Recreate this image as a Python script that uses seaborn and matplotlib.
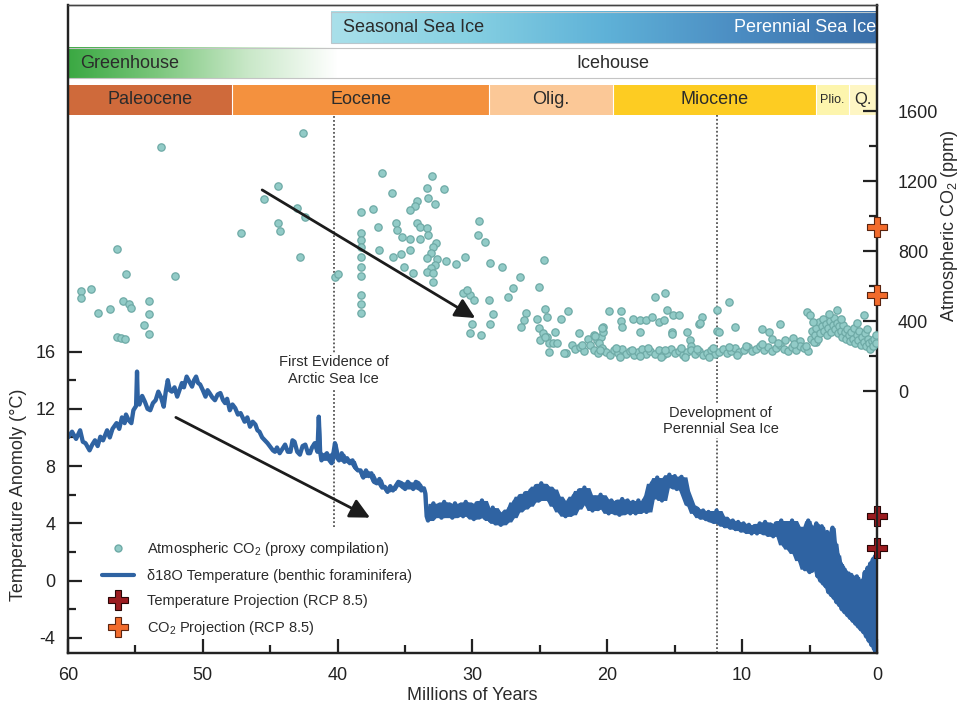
import numpy as np
import pandas as pd
import matplotlib
matplotlib.use("Agg")
import matplotlib.pyplot as plt
from matplotlib.lines import Line2D
from matplotlib.colors import LinearSegmentedColormap
from matplotlib.ticker import FixedLocator
import seaborn as sns

# ---- data ----
# benthic d18O temperature (age in Myr, temperature anomaly in degC)
temp_age = [
    60.0, 59.7, 59.4, 59.1, 58.9, 58.7, 58.4, 58.2, 58.0, 57.8,
    57.6, 57.4, 57.1, 56.9, 56.7, 56.4, 56.2, 56.0, 55.8, 55.7,
    55.5, 55.3, 55.15, 54.95, 54.88, 54.82, 54.7, 54.5, 54.3, 54.1,
    53.9, 53.7, 53.5, 53.3, 53.1, 52.9, 52.75, 52.6, 52.45, 52.3,
    52.1, 51.9, 51.7, 51.55, 51.4, 51.2, 51.0, 50.8, 50.65, 50.5,
    50.35, 50.2, 50.0, 49.8, 49.65, 49.5, 49.3, 49.1, 48.9, 48.7,
    48.5, 48.35, 48.2, 48.0, 47.8, 47.6, 47.4, 47.2, 47.0, 46.9,
    46.7, 46.5, 46.3, 46.1, 45.95, 45.8, 45.6, 45.4, 45.2, 45.0,
    44.8, 44.65, 44.5, 44.3, 44.1, 43.9, 43.7, 43.5, 43.35, 43.2,
    43.0, 42.8, 42.6, 42.4, 42.2, 42.05, 41.9, 41.7, 41.5, 41.4,
    41.3, 41.2, 41.0, 40.8, 40.6, 40.45, 40.3, 40.2, 40.05, 39.9,
    39.7, 39.5, 39.3, 39.1, 38.9, 38.7, 38.5, 38.3, 38.1, 37.9,
    37.7, 37.5, 37.3, 37.1, 36.9, 36.7, 36.5, 36.3, 36.1, 35.9,
    35.7, 35.5, 35.25, 35.0, 34.8, 34.6, 34.4, 34.2, 34.0, 33.8,
    33.6, 33.5, 33.4, 33.3, 33.1, 32.9, 32.7, 32.5, 32.3, 32.1,
    31.9, 31.7, 31.5, 31.3, 31.1, 30.9, 30.7, 30.5, 30.3, 30.1,
    29.9, 29.7, 29.5, 29.3, 29.1, 28.9, 28.7, 28.5, 28.3, 28.1,
    27.9, 27.7, 27.5, 27.3, 27.1, 26.9, 26.7, 26.5, 26.3, 26.1,
    25.9, 25.7, 25.5, 25.3, 25.1, 24.9, 24.7, 24.5, 24.3, 24.1,
    23.9, 23.7, 23.5, 23.3, 23.1, 22.9, 22.7, 22.5, 22.3, 22.1,
    21.9, 21.7, 21.5, 21.3, 21.1, 20.9, 20.7, 20.5, 20.3, 20.1,
    19.9, 19.7, 19.5, 19.3, 19.1, 18.9, 18.7, 18.5, 18.3, 18.1,
    17.9, 17.7, 17.5, 17.3, 17.1, 16.9, 16.7, 16.5, 16.3, 16.1,
    15.95, 15.8, 15.6, 15.4, 15.2, 15.0, 14.85, 14.7, 14.5, 14.3,
    14.1, 13.9, 13.7, 13.5, 13.3, 13.1, 12.9, 12.7, 12.5, 12.3,
    12.1, 11.9, 11.7, 11.5, 11.3, 11.1, 10.9, 10.7, 10.5, 10.3,
    10.1, 9.9, 9.7, 9.5, 9.3, 9.1, 8.9, 8.7, 8.5, 8.3,
    8.1, 7.9, 7.7, 7.5, 7.3, 7.1, 6.9, 6.7, 6.5, 6.3,
    6.1, 5.9, 5.7, 5.5, 5.35, 5.2, 5.1, 5.0, 4.9, 4.8,
    4.7, 4.6, 4.5, 4.4, 4.3, 4.2, 4.1, 4.0, 3.9, 3.8,
    3.7, 3.6, 3.5, 3.4, 3.3, 3.2, 3.1, 3.0, 2.9, 2.8,
    2.7, 2.6, 2.5, 2.4, 2.3, 2.2, 2.1, 2.0, 1.9, 1.8,
    1.7, 1.6, 1.5, 1.4, 1.3, 1.2, 1.1, 1.0, 0.9, 0.8,
    0.7, 0.6, 0.5, 0.4, 0.3, 0.2, 0.15, 0.1, 0.05, 0.0,
]
temp_val = [
    10.0, 10.4, 9.9, 10.5, 9.7, 9.6, 9.1, 9.5, 9.8, 9.4,
    10.05, 9.8, 10.5, 10.0, 10.6, 11.0, 10.6, 11.4, 11.0, 11.6,
    11.2, 11.0, 11.9, 12.2, 14.6, 12.4, 12.3, 12.9, 12.5, 12.0,
    11.9, 12.4, 12.6, 13.2, 12.8, 12.15, 13.2, 14.0, 13.3, 13.2,
    13.5, 12.85, 13.4, 13.8, 13.5, 14.25, 13.9, 13.55, 14.0, 14.25,
    13.8, 13.7, 13.3, 12.85, 13.3, 13.1, 12.8, 12.6, 13.0, 13.1,
    12.6, 12.4, 12.7, 11.9, 12.3, 12.05, 11.6, 11.7, 11.3, 11.1,
    11.4, 10.75, 11.1, 10.9, 10.5, 10.4, 10.0, 9.8, 9.6, 9.35,
    9.1, 9.0, 9.3, 8.9, 9.2, 9.5, 9.0, 9.0, 9.8, 9.7,
    9.0, 8.8, 9.4, 9.5, 8.9, 8.9, 9.3, 9.6, 9.0, 11.45,
    9.0, 8.4, 8.7, 8.9, 8.4, 8.2, 9.0, 9.6, 8.6, 8.4,
    8.9, 8.3, 8.55, 8.2, 8.4, 7.9, 7.7, 7.7, 7.2, 7.7,
    7.3, 7.5, 6.9, 6.8, 7.1, 6.5, 6.55, 6.2, 6.6, 6.3,
    6.6, 6.9, 6.8, 6.4, 6.9, 6.7, 6.4, 6.9, 6.8, 6.3,
    6.45, 6.1, 4.5, 4.2, 4.8, 5.4, 4.6, 5.2, 4.4, 5.5,
    4.7, 5.3, 4.4, 5.4, 4.6, 5.3, 4.5, 5.5, 4.6, 5.2,
    4.3, 5.4, 4.8, 5.6, 4.4, 5.0, 4.2, 5.1, 4.0, 4.8,
    3.9, 4.6, 4.1, 5.0, 4.4, 5.5, 4.8, 5.9, 5.0, 6.1,
    5.2, 6.3, 5.5, 6.6, 5.6, 6.8, 5.8, 6.6, 5.6, 6.4,
    5.2, 5.9, 4.8, 5.6, 4.5, 5.3, 4.6, 5.9, 5.0, 6.3,
    5.4, 6.5, 5.3, 6.0, 4.9, 5.8, 5.0, 6.0, 5.1, 5.7,
    4.7, 5.6, 4.8, 5.5, 4.6, 5.7, 4.8, 5.6, 4.7, 5.5,
    4.7, 5.6, 4.8, 5.6, 4.8, 6.0, 6.8, 5.8, 7.2, 6.2,
    5.6, 7.0, 6.5, 7.4, 6.6, 7.3, 6.4, 7.0, 7.25, 6.3,
    5.8, 5.3, 5.2, 4.7, 5.0, 4.4, 4.9, 4.3, 4.8, 4.2,
    4.1, 4.9, 4.0, 4.5, 3.8, 4.3, 3.7, 4.2, 3.6, 4.1,
    3.5, 4.0, 3.4, 3.9, 3.3, 3.8, 3.3, 4.0, 3.4, 4.1,
    3.2, 3.9, 3.1, 4.0, 3.3, 4.2, 2.5, 4.0, 2.2, 4.2,
    1.9, 3.8, 1.4, 3.6, 0.8, 3.3, 4.2, 0.6, 3.8, 0.7,
    3.5, 1.0, 4.0, 0.3, 3.6, 0.0, 3.8, -0.2, 3.0, -0.4,
    3.4, -0.8, 3.0, -1.0, 3.7, -1.2, 2.6, -1.5, 1.8, -1.7,
    1.2, -2.0, 0.9, -2.2, 0.6, -2.4, 0.5, -2.6, 0.4, -2.8,
    0.1, -3.0, 0.3, -3.2, -0.2, -3.4, 0.0, -3.6, 0.6, -3.9,
    0.9, -4.2, 1.2, -4.5, 1.5, -4.8, 1.7, -5.0, 1.2, 1.8,
]

# CO2 proxy compilation (age in Myr, ppm)
co2_age = [
    # Paleocene / early Eocene
    53.1, 42.55, 44.4, 45.5, 43.0, 42.4, 44.4, 44.3, 47.2, 42.8,
    56.4, 55.7, 52.1, 58.3, 59.0, 59.0, 55.9, 55.5, 55.3, 54.0,
    54.0, 57.8, 56.9, 54.4, 54.0, 56.4, 56.1, 55.8, 40.2, 40.0,
    # late Eocene / Oligocene
    36.7, 33.0, 33.4, 32.1, 36.0, 33.3, 32.8, 34.1, 34.3, 34.6,
    37.35, 38.3, 37.0, 35.7, 35.6, 35.25, 34.1, 33.9, 33.4, 33.3,
    33.9, 34.6, 38.3, 38.3, 38.3, 38.3, 38.3, 38.3, 38.3, 38.3,
    38.3, 36.9, 35.9, 35.3, 34.6, 32.7, 32.9, 33.1, 33.4, 32.6,
    32.8, 33.1, 33.4, 32.9, 32.9, 35.1, 34.4, 32.0, 31.2, 30.55,
    29.5, 29.6, 29.1, 28.7, 27.8, 26.5, 27.0, 27.4, 24.7, 25.1,
    30.7, 30.2, 29.9, 30.4, 28.8, 28.5, 28.7, 30.0, 30.2, 29.4,
    # late Oligocene / Miocene scattered values
    26.0, 26.2, 26.4, 25.2, 24.5, 24.6, 23.4, 22.9, 22.1, 23.85,
    25.1, 24.8, 24.5, 25.0, 24.3, 24.0, 23.1, 22.6, 24.6, 24.3,
    23.7, 23.2, 21.4, 21.0, 20.8, 20.5, 20.3, 20.3, 20.9, 20.4,
    20.65, 20.3, 19.9, 19.0, 19.0, 18.9, 18.1, 17.6, 17.6, 17.1,
    16.7, 16.2, 15.8, 15.6, 15.7, 16.45, 15.1, 14.7, 15.2, 15.2,
    14.1, 13.85, 13.8, 13.2, 12.95, 11.9, 11.9, 11.7, 11.0, 10.5,
    8.5, 8.0, 7.2, 5.2, 5.0, 4.5, 3.0, 1.0, 13.1, 7.8,
    6.8, 6.2, 5.7,
    # Miocene low band
    22.4, 22.0, 21.7, 21.3, 21.0, 20.7, 20.4, 20.1, 19.8, 19.5,
    19.2, 18.9, 18.6, 18.3, 18.0, 17.7, 17.4, 17.1, 16.8, 16.5,
    16.2, 15.9, 15.6, 15.3, 15.0, 14.7, 14.4, 14.1, 13.8, 13.5,
    13.2, 12.9, 12.6, 12.3, 12.0, 11.7, 11.4, 11.1, 10.8, 10.5,
    10.2, 9.9, 9.6, 9.3, 9.0, 8.7, 8.4, 8.1, 7.8, 7.5,
    7.2, 6.9, 6.6, 6.3, 6.0, 5.7, 5.4, 5.1,
    21.85, 20.55, 19.35, 18.15, 16.95, 15.75, 14.55, 13.35, 12.15, 10.95,
    9.75, 8.55, 7.35, 6.15, 5.25, 19.05, 17.55, 16.05, 14.25, 12.45,
    10.35,
    # Pliocene / Quaternary
    4.9, 4.8, 4.7, 4.6, 4.5, 4.4, 4.3, 4.2, 4.1, 4.0,
    3.9, 3.8, 3.7, 3.6, 3.5, 3.4, 3.3, 3.2, 3.1, 3.0,
    2.9, 2.8, 2.7, 2.6, 2.5, 2.4, 2.3, 2.2, 2.1, 2.0,
    1.9, 1.8, 1.7, 1.6, 1.5, 1.4, 1.3, 1.2, 1.1, 1.0,
    0.9, 0.8, 0.7, 0.6, 0.5, 0.4, 0.3, 0.2, 0.1, 0.05,
    4.75, 3.55, 2.65, 0.75, 1.45,
]
co2_ppm = [
    1396, 1476, 1173, 1097, 1046, 996, 962, 916, 901, 766,
    813, 667, 655, 581, 573, 533, 516, 497, 476, 513,
    442, 447, 467, 377, 326, 310, 303, 297, 653, 669,
    1244, 1230, 1158, 1154, 1130, 1105, 1069, 1087, 1059, 1034,
    1040, 1021, 935, 962, 920, 882, 962, 939, 930, 891,
    867, 867, 901, 863, 821, 767, 710, 657, 549, 497,
    447, 806, 764, 783, 806, 847, 821, 787, 758, 753,
    720, 701, 682, 673, 625, 710, 673, 745, 724, 764,
    971, 891, 853, 730, 710, 653, 587, 539, 749, 593,
    562, 549, 520, 577, 520, 440, 383, 383, 333, 320,
    444, 406, 364, 410, 425, 470, 410, 459, 330, 335,
    358, 330, 310, 291, 272, 276, 219, 263, 307, 225,
    272, 215, 295, 320, 291, 310, 339, 364, 314, 358,
    272, 234, 459, 459, 402, 367, 410, 406, 339, 406,
    425, 396, 406, 463, 558, 535, 434, 434, 339, 326,
    339, 291, 257, 383, 421, 463, 345, 337, 510, 367,
    352, 339, 381, 453, 434, 282, 463, 434, 390, 300,
    290, 305, 285,
    240, 250, 228, 262, 236, 215, 248, 225, 208, 232,
    218, 240, 212, 228, 205, 222, 238, 210, 226, 214,
    232, 206, 220, 240, 215, 228, 208, 222, 236, 212,
    226, 205, 218, 232, 214, 224, 240, 218, 230, 246,
    222, 236, 250, 228, 242, 258, 236, 250, 230, 246,
    262, 240, 226, 252, 236, 260, 244, 230,
    262, 232, 245, 236, 243, 236, 244, 240, 246, 252,
    258, 270, 272, 268, 256, 196, 198, 194, 197, 196,
    205,
    300, 345, 280, 320, 360, 300, 395, 330, 370, 410,
    345, 385, 320, 360, 400, 340, 375, 420, 355, 390,
    330, 370, 345, 310, 380, 335, 300, 355, 320, 285,
    340, 300, 360, 275, 320, 290, 345, 265, 310, 280,
    330, 260, 300, 275, 240, 285, 260, 300, 275, 320,
    395, 440, 410, 355, 390,
]

# RCP 8.5 projections plotted at the present day
proj_age = [0.0, 0.0]
temp_proj = [4.5, 2.3]
co2_proj = [936, 550]

# timescale bands
epoch_names = ["Paleocene", "Eocene", "Olig.", "Miocene", "Plio.", "Q."]
epoch_start = [60.0, 47.8, 28.8, 19.6, 4.5, 2.1]
epoch_end = [47.8, 28.8, 19.6, 4.5, 2.1, 0.0]
epoch_colors = ["#cf6a3b", "#f4913e", "#fbc897", "#fdcc22", "#fdf5ad", "#fef6c4"]
epoch_fsize = [13, 13, 13, 13, 9, 12]

assert len(temp_age) == len(temp_val)
assert len(co2_age) == len(co2_ppm)

temp_df = pd.DataFrame({"age": temp_age, "temp": temp_val})
co2_df = pd.DataFrame({"age": co2_age, "ppm": co2_ppm})

# ---- style ----
sns.set_style("white")
plt.rcParams["font.family"] = ["Liberation Sans", "DejaVu Sans"]
plt.rcParams["mathtext.fontset"] = "custom"
plt.rcParams["mathtext.rm"] = "Liberation Sans"
plt.rcParams["mathtext.it"] = "Liberation Sans:italic"
plt.rcParams["axes.unicode_minus"] = False

BLUE = "#2f63a2"
TEAL = "#92cbc7"
TEAL_EDGE = "#6eaaa6"
TXT = "#2b2b2b"

T_LIM = (-5.05, 40.2)
C_LIM = (-1497, 2206)


def frac_t(f):
    # axes fraction -> temperature-axis data value
    return T_LIM[0] + f * (T_LIM[1] - T_LIM[0])


fig = plt.figure(figsize=(9.59, 7.09), dpi=100)
ax = fig.add_axes([0.0709, 0.079, 0.8436, 0.914])
ax2 = ax.twinx()

# temperature curve; the younger part of the record is a dense noisy band,
# so also shade between the local high and low of the trace there
sns.lineplot(data=temp_df, x="age", y="temp", ax=ax, color=BLUE, lw=3.1,
             sort=False, estimator=None, zorder=4)
for max_age, win in [(41.5, 3), (33.4, 5)]:
    band = temp_df[temp_df["age"] <= max_age]
    hi = band["temp"].rolling(win, center=True, min_periods=1).max()
    lo = band["temp"].rolling(win, center=True, min_periods=1).min()
    ax.fill_between(band["age"], lo, hi, color=BLUE, lw=0, zorder=4)
ax.scatter(proj_age, temp_proj, marker="P", s=190, color="#9b1c20",
           edgecolors="#2a0606", linewidths=0.8, clip_on=False, zorder=8)

# CO2 scatter
sns.scatterplot(data=co2_df, x="age", y="ppm", ax=ax2, color=TEAL,
                edgecolor=TEAL_EDGE, s=28, linewidth=0.9, zorder=3)
ax2.scatter(proj_age, co2_proj, marker="P", s=190, color="#f26b2c",
            edgecolors="#5a2410", linewidths=0.8, clip_on=False, zorder=8)

# ---- header bands ----
# seasonal / perennial sea ice
ice_cmap = LinearSegmentedColormap.from_list(
    "ice", ["#a9e0ea", "#86d0e2", "#5fb2d8", "#4b8cc2", "#3a6ea8"])
grad = np.linspace(0, 1, 256).reshape(1, -1)
ax.imshow(grad, cmap=ice_cmap, aspect="auto", zorder=1,
          extent=(40.5, 0.0, frac_t(0.941), frac_t(0.989)))
ax.add_patch(plt.Rectangle((40.5, frac_t(0.941)), -40.5,
                           frac_t(0.989) - frac_t(0.941),
                           fill=False, ec="#b9c6cc", lw=0.8, zorder=2))
ax.text(39.6, frac_t(0.965), "Seasonal Sea Ice", ha="left", va="center",
        fontsize=13, color=TXT, zorder=3)
ax.text(0.05, frac_t(0.965), "Perennial Sea Ice", ha="right", va="center",
        fontsize=13, color="white", zorder=3)

# greenhouse / icehouse
green_cmap = LinearSegmentedColormap.from_list(
    "gh", ["#3aa842", "#7cc77d", "#c9e8c8", "#ffffff"])
ax.imshow(grad, cmap=green_cmap, aspect="auto", zorder=1,
          extent=(60.0, 40.0, frac_t(0.887), frac_t(0.934)))
ax.add_patch(plt.Rectangle((60.0, frac_t(0.887)), -60.0,
                           frac_t(0.934) - frac_t(0.887),
                           fill=False, ec="#c4c4c4", lw=0.8, zorder=2))
ax.text(59.1, frac_t(0.910), "Greenhouse", ha="left", va="center",
        fontsize=13, color=TXT, zorder=3)
ax.text(19.6, frac_t(0.910), "Icehouse", ha="center", va="center",
        fontsize=13, color=TXT, zorder=3)

# epochs
for name, x0, x1, col, fs in zip(epoch_names, epoch_start, epoch_end,
                                 epoch_colors, epoch_fsize):
    ax.axvspan(x0, x1, ymin=0.830, ymax=0.877, color=col, lw=0, zorder=1)
    ax.text((x0 + x1) / 2, frac_t(0.8535), name, ha="center", va="center",
            fontsize=fs, color=TXT, zorder=3)
for x in epoch_start[1:]:
    ax.axvline(x, ymin=0.830, ymax=0.877, color="white", lw=0.8, zorder=2)

# ---- event markers ----
ax.axvline(40.3, ymin=0.194, ymax=0.830, color="#555555", lw=1.3,
           ls=(0, (1, 1.2)), zorder=2)
ax.axvline(11.9, ymin=0.0, ymax=0.830, color="#555555", lw=1.3,
           ls=(0, (1, 1.2)), zorder=2)
ax.text(40.3, 14.7, "First Evidence of\nArctic Sea Ice", ha="center",
        va="center", fontsize=10.5, color=TXT, linespacing=1.25,
        bbox=dict(fc="white", ec="none", pad=1.5), zorder=5)
ax.text(11.6, 11.15, "Development of\nPerennial Sea Ice", ha="center",
        va="center", fontsize=10.5, color=TXT, linespacing=1.25,
        bbox=dict(fc="white", ec="none", pad=1.5), zorder=5)

# trend arrows
arrow = dict(arrowstyle="-|>", lw=2.0, color="#1c1c1c", mutation_scale=30,
             shrinkA=0, shrinkB=0)
ax2.annotate("", xy=(29.8, 417), xytext=(45.6, 1149), arrowprops=arrow,
             zorder=6)
ax.annotate("", xy=(37.6, 4.4), xytext=(52.0, 11.4), arrowprops=arrow,
            zorder=6)

# ---- axes ----
ax.set_xlim(60, 0)
ax.set_ylim(*T_LIM)
ax2.set_ylim(*C_LIM)

ax.xaxis.set_major_locator(FixedLocator([60, 50, 40, 30, 20, 10, 0]))
ax.xaxis.set_minor_locator(FixedLocator([55, 45, 35, 25, 15, 5]))
ax.yaxis.set_major_locator(FixedLocator([-4, 0, 4, 8, 12, 16]))
ax.yaxis.set_minor_locator(FixedLocator([-2, 2, 6, 10, 14]))
ax2.yaxis.set_major_locator(FixedLocator([0, 400, 800, 1200, 1600]))
ax2.yaxis.set_minor_locator(FixedLocator([200, 600, 1000, 1400]))

ax.tick_params(axis="x", which="both", bottom=True, top=False,
               direction="in", width=1.6, colors="#222222", labelsize=13,
               pad=10)
ax.tick_params(axis="y", which="both", left=True, right=False,
               direction="in", width=1.6, colors="#222222", labelsize=13,
               pad=9)
ax2.tick_params(axis="y", which="both", right=True, left=False,
                direction="in", width=1.6, colors="#222222", labelsize=13,
                pad=15)
for a in (ax, ax2):
    a.tick_params(which="major", length=10)
    a.tick_params(which="minor", length=6)
    for side in ("left", "right", "bottom"):
        a.spines[side].set_linewidth(1.6)
        a.spines[side].set_color("#222222")
    a.spines["top"].set_linewidth(1.0)
    a.spines["top"].set_color("#444444")

ax.set_xlabel("Millions of Years", fontsize=13, color=TXT, labelpad=2)
ax.set_ylabel("Temperature Anomoly (°C)", fontsize=13, color=TXT)
ax.yaxis.set_label_coords(-0.051, 0.244)
ax2.set_ylabel("Atmospheric CO$_2$ (ppm)", fontsize=13, color=TXT,
               rotation=90)
ax2.yaxis.set_label_coords(1.077, 0.66)

# ---- legend ----
handles = [
    Line2D([], [], ls="", marker="o", markersize=5, color=TEAL,
           mec=TEAL_EDGE),
    Line2D([], [], color=BLUE, lw=3),
    Line2D([], [], ls="", marker="P", markersize=14, color="#9b1c20",
           mec="#2a0606", mew=0.8),
    Line2D([], [], ls="", marker="P", markersize=14, color="#f26b2c",
           mec="#5a2410", mew=0.8),
]
labels = [
    "Atmospheric CO$_2$ (proxy compilation)",
    "δ18O Temperature (benthic foraminifera)",
    "Temperature Projection (RCP 8.5)",
    "CO$_2$ Projection (RCP 8.5)",
]
leg = ax2.legend(handles, labels, loc="upper left",
                 bbox_to_anchor=(0.035, 0.183), frameon=False, fontsize=10.5,
                 handlelength=2.2, handletextpad=0.9, labelspacing=0.74,
                 borderaxespad=0)
for t in leg.get_texts():
    t.set_color(TXT)

fig.savefig("out.png", dpi=100)
